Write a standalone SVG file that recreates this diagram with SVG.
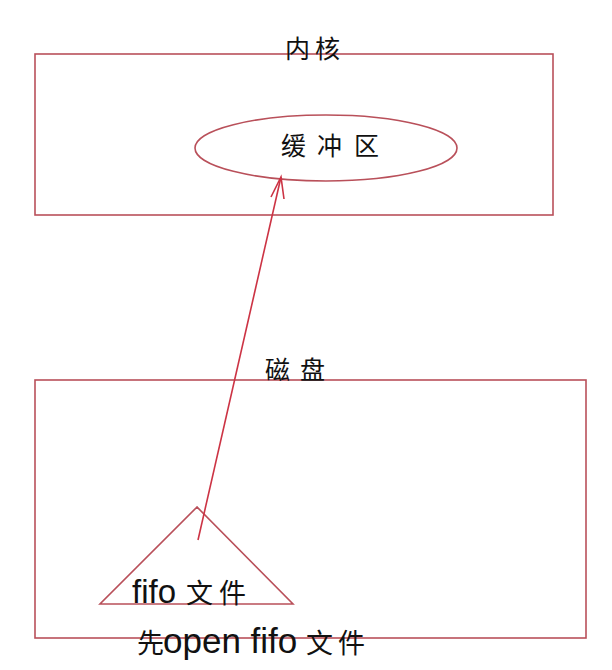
<svg xmlns="http://www.w3.org/2000/svg" width="612" height="670" viewBox="0 0 612 670">
<style>
.box{fill:none;stroke:#b9505a;stroke-width:1.6}
.t{font-family:"Liberation Serif","Noto Sans CJK SC",serif;fill:#111;font-size:25px}
.s{font-family:"Liberation Sans","Noto Sans CJK SC",sans-serif;fill:#111}
.c{font-family:"Noto Sans CJK SC",sans-serif;font-size:27px}
</style>
<rect width="612" height="670" fill="#fff"/>
<g id="kernel">
<rect class="box" x="35" y="54" width="518" height="161"/>
<text class="t" x="285 315" y="58">内核</text>
</g>
<g id="buffer">
<ellipse class="box" cx="326" cy="148" rx="131" ry="33"/>
<text class="t" x="281 317 354" y="155">缓冲区</text>
</g>
<g id="disk">
<rect class="box" x="35" y="380" width="551" height="258"/>
<text class="t" x="265 300" y="379">磁盘</text>
</g>
<g id="fifo">
<polygon class="box" points="197,507 100,604 293,604"/>
<text class="s" y="603"><tspan x="132" font-size="33">fifo</tspan><tspan class="c" x="186 219">文件</tspan></text>
</g>
<g id="note">
<text class="s" y="653"><tspan class="c" x="137">先</tspan><tspan x="163" font-size="35">open fifo</tspan><tspan class="c" x="306 338">文件</tspan></text>
</g>
<g id="connectors">
<line x1="198" y1="540" x2="281" y2="177" stroke="#cc3344" stroke-width="1.6"/>
<polyline points="271,197 281,177 284,199" fill="none" stroke="#cc3344" stroke-width="1.6"/>
</g>
</svg>
